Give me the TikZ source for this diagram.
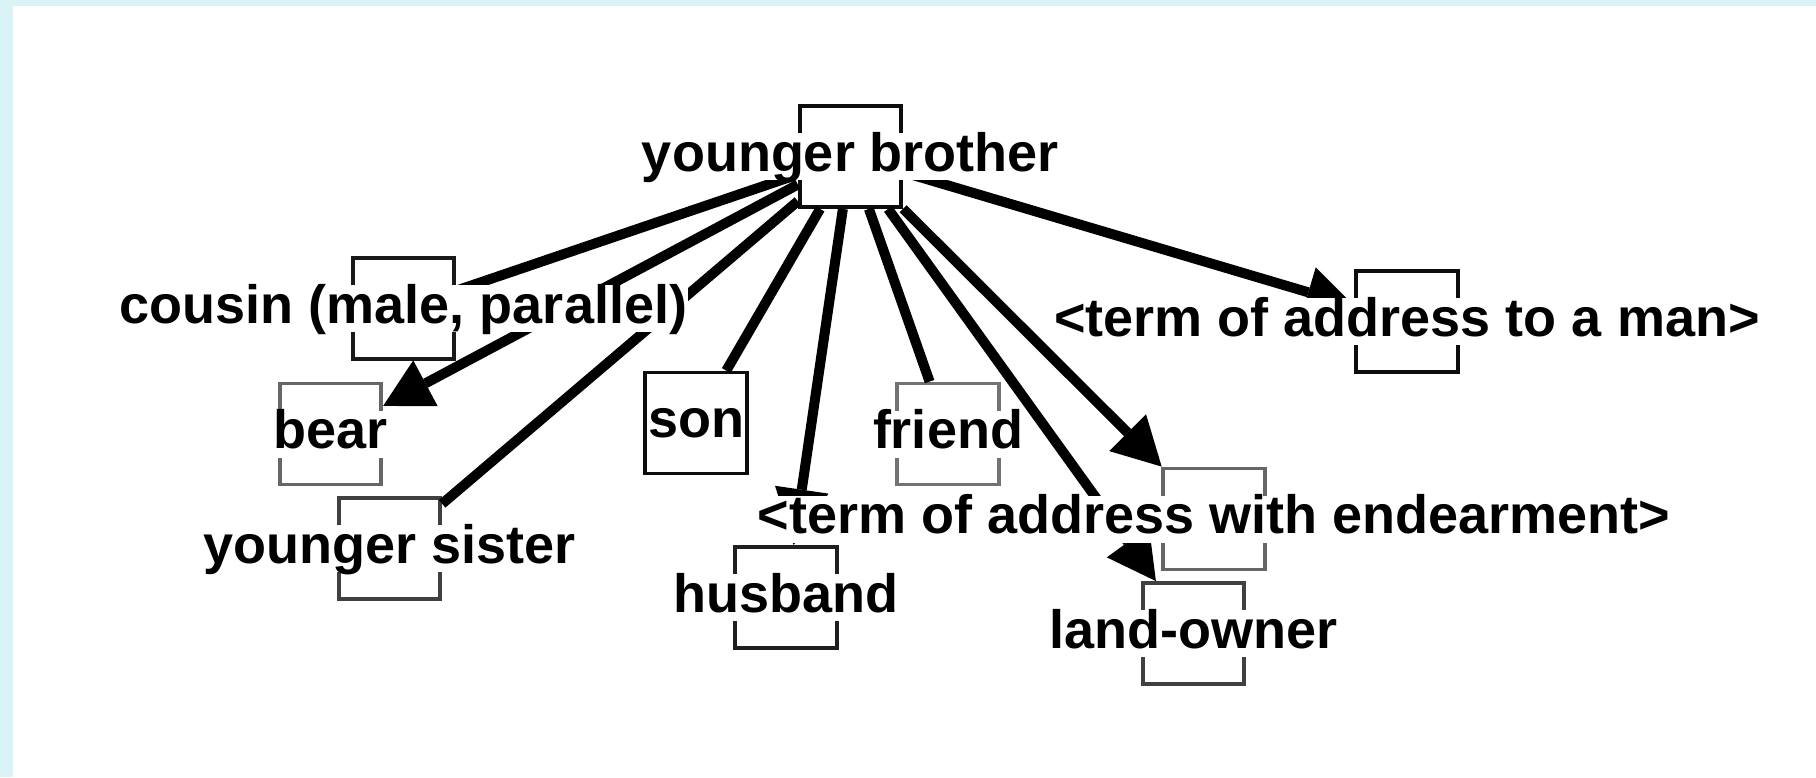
\documentclass[tikz,border=0pt]{standalone}
\usepackage{fontspec}
\setmainfont{Liberation Sans}
\usetikzlibrary{arrows.meta}
\definecolor{framebg}{RGB}{218,243,247}
\tikzset{
  box/.style={draw=#1, line width=3.8pt, minimum width=101.5pt, minimum height=101pt, inner sep=0pt},
  box/.default=black,
  lbl/.style={fill=white, inner xsep=1pt, inner ysep=0pt, text height=38pt, text depth=9pt,
              font=\fontsize{54pt}{60pt}\selectfont\bfseries},
  link/.style={line width=10pt, draw=black},
  arr/.style={link, -{Triangle[length=48pt,width=52pt,line width=0pt]}},
  longarr/.style={link, -{Triangle[length=56pt,width=54pt,line width=0pt]}},
}
\begin{document}
\begin{tikzpicture}[x=1pt,y=-1pt]
\fill[framebg] (0,0) rectangle (1816,777);
\fill[white] (13,6) rectangle (1816,777);
\useasboundingbox (0,0) rectangle (1816,777);
% boxes
\node[box=black!95] (yb) at (850.5,156.5) {};
\node[box=black!90] (cousin) at (403.5,308.5) {};
\node[box=black!60] (bear) at (330.5,434) {};
\node[box=black!75] (sister) at (389.5,548.5) {};
\node[box=black!95] (son) at (696,423) {};
\node[box=black!88] (husband) at (786,597.5) {};
\node[box=black!55] (friend) at (948,434) {};
\node[box=black!60] (endear) at (1214,519) {};
\node[box=black!75] (land) at (1193.5,633.5) {};
\node[box=black!95] (man) at (1407,321.5) {};
% connectors
\draw[link] (yb) -- (cousin);
\draw[arr] (yb) -- (bear);
\draw[link] (yb) -- (sister);
\draw[link] (yb) -- (son);
\draw[longarr] (yb) -- (husband);
\draw[link] (yb) -- (friend);
\draw[arr] (yb) -- (endear);
\draw[arr] (yb) -- (land);
\draw[arr] (yb) -- (man);
% labels
\node[lbl] (yb-t) at (yb) {younger brother};
\node[lbl] (cousin-t) at (cousin) {cousin (male, parallel)};
\node[lbl] (bear-t) at (bear) {bear};
\node[lbl] (sister-t) at (sister) {younger sister};
\node[lbl] (son-t) at (son) {son};
\node[lbl] (husband-t) at (husband) {husband};
\node[lbl] (friend-t) at (friend) {friend};
\node[lbl] (endear-t) at (endear) {<term of address with endearment>};
\node[lbl] (land-t) at (land) {land-owner};
\node[lbl] (man-t) at (man) {<term of address to a man>};
\end{tikzpicture}
\end{document}
